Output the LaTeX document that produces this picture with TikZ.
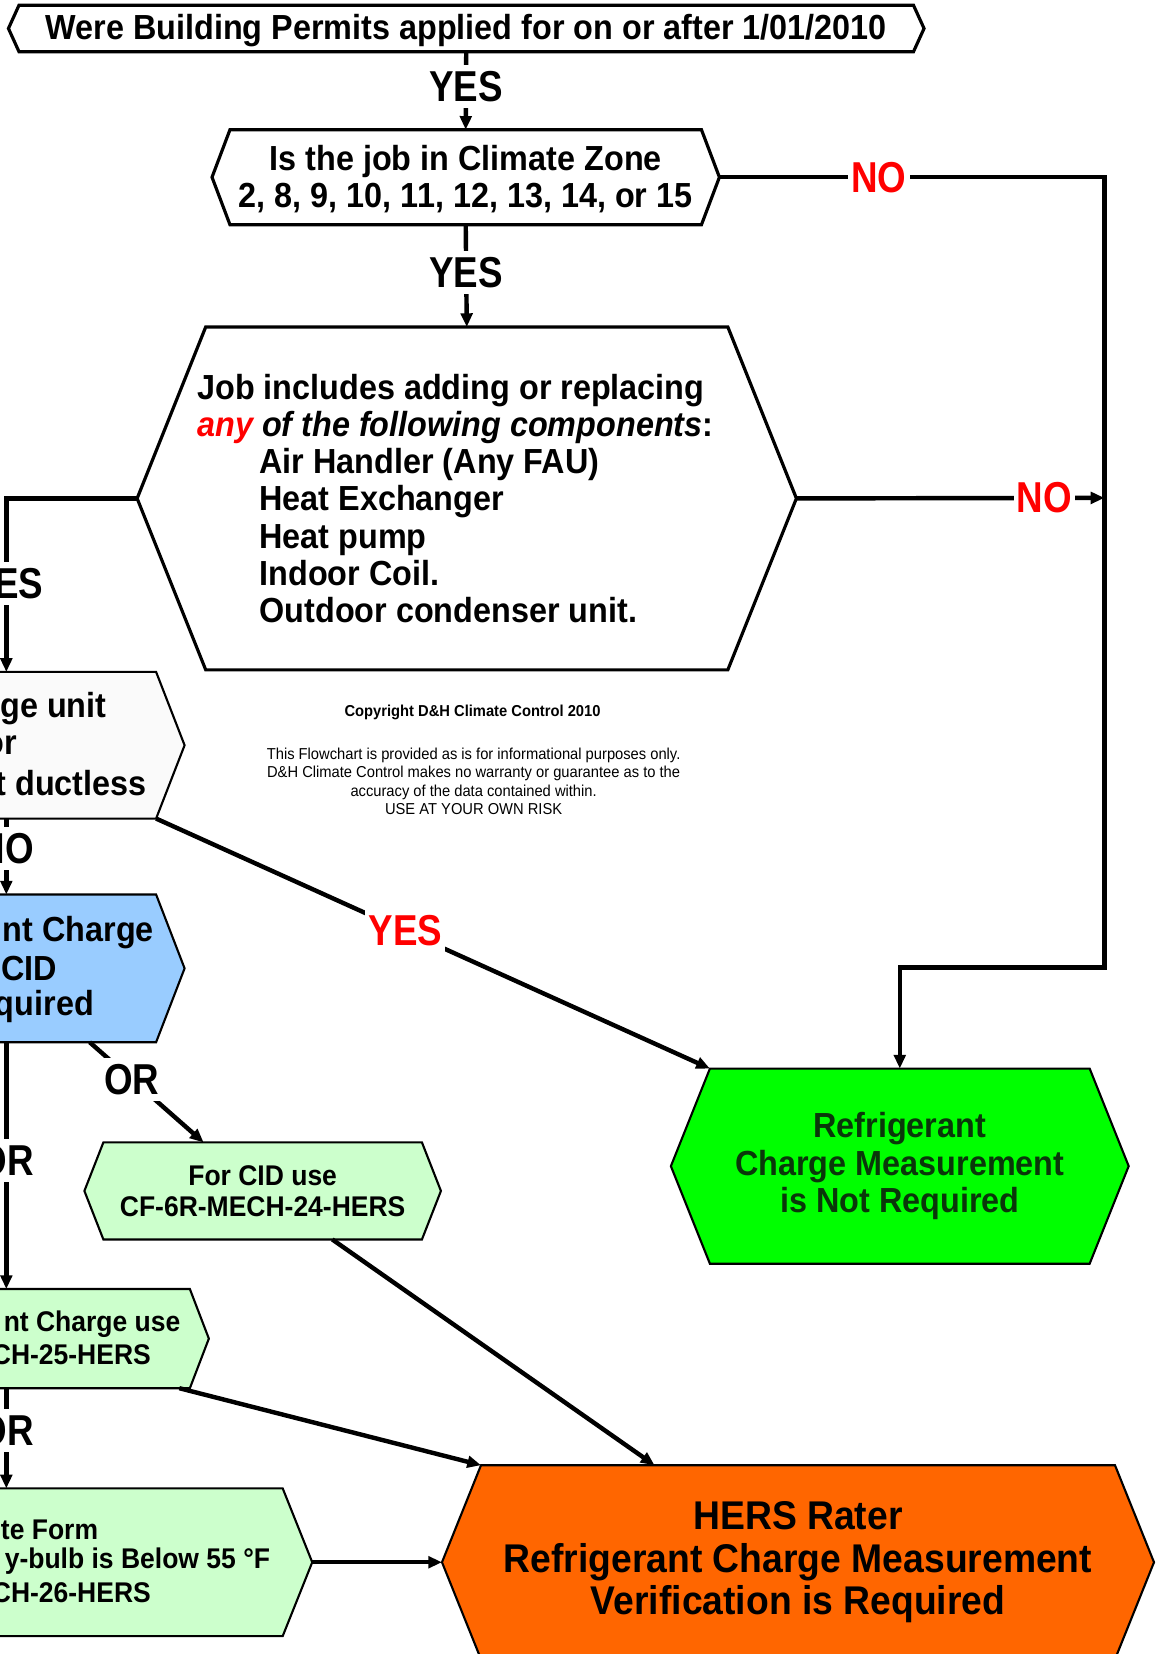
\documentclass[tikz,border=0pt]{standalone}
\usepackage{fontspec}
\setmainfont{Liberation Sans}[FakeStretch=0.93]
\newfontfamily\lblfont{Liberation Sans}[FakeStretch=0.85]
\usetikzlibrary{arrows.meta,backgrounds,calc}
\definecolor{cidblue}{RGB}{153,204,255}
\definecolor{lgreen}{RGB}{204,255,204}
\definecolor{bgreen}{RGB}{0,255,0}
\definecolor{dgreen}{RGB}{10,55,10}
\definecolor{orng}{RGB}{255,102,0}
\definecolor{offw}{RGB}{250,250,250}
\newcommand\hexbox[4]{%
  \begin{scope}[on background layer]
    \clip (0,0) rectangle (1100,1568);
    \filldraw[fill=#3,line width=#4,line join=miter]
      (#1.north west) -- (#1.north east) -- ([xshift=#2]#1.east) --
      (#1.south east) -- (#1.south west) -- ([xshift=-#2]#1.west) -- cycle;
  \end{scope}}
\tikzset{
  body/.style={inner sep=0pt, outer sep=0pt, draw=none, align=center,
    font=\bfseries\fontsize{33}{35.3}\selectfont},
  small/.style={body, font=\bfseries\fontsize{27}{29}\selectfont},
  frag/.style={inner sep=0pt, outer sep=0pt, anchor=east},
  conn/.style={line width=4.2pt, -{Triangle[length=13pt,width=11pt]}},
  lbl/.style={fill=white, inner xsep=3pt, inner ysep=6pt, font=\lblfont\bfseries\fontsize{41}{41}\selectfont},
  rlbl/.style={lbl, text=red},
}
\begin{document}
\begin{tikzpicture}[x=1pt,y=-1pt]
\useasboundingbox (0,0) rectangle (1100,1568);
\begin{scope}[on background layer]
  \fill[white] (0,0) rectangle (1100,1568);
\end{scope}
\clip (0,0) rectangle (1100,1568);

% nodes
\node[body, minimum width=848, minimum height=44] (n1) at (442,27) {};
\hexbox{n1}{10}{white}{3pt}
\node[body] (n1t) at (442,29)
  {Were Building Permits applied for on or after 1/01/2010};

\node[body, minimum width=447, minimum height=90] (n2) at (441.5,168) {};
\hexbox{n2}{17}{white}{3pt}
\node[body] (n2t) at (441.5,170)
  {Is the job in Climate Zone\\2, 8, 9, 10, 11, 12, 13, 14, or 15};

\node[body, minimum width=495, minimum height=325] (n3) at (442.5,472.5) {};
\hexbox{n3}{65}{white}{3pt}
\node[body, align=left, anchor=west] (n3t) at (187,472.5)
  {Job includes adding or replacing\\
   {\color{red}\itshape any} {\itshape of the following components}:\\
   \hspace*{59pt}Air Handler (Any FAU)\\
   \hspace*{59pt}Heat Exchanger\\
   \hspace*{59pt}Heat pump\\
   \hspace*{59pt}Indoor Coil.\\
   \hspace*{59pt}Outdoor condenser unit.};

\node[body, minimum width=284, minimum height=139] (n4) at (6,706.5) {};
\hexbox{n4}{27}{offw}{2pt}
\node[body, frag] (n4a) at (101,672) {ge unit};
\node[body, frag] (n4b) at (16,707) {or};
\node[body, frag] (n4c) at (139,742) {t ductless};

\node[body, minimum width=284, minimum height=140] (n5) at (6,918) {};
\hexbox{n5}{27}{cidblue}{2pt}
\node[body, frag] (n5a) at (146,884) {nt Charge};
\node[body, frag] (n5b) at (54,918) {CID};
\node[body, frag] (n5c) at (89,954) {quired};

\node[small, minimum width=302, minimum height=92] (n7) at (249,1129)
  {For CID use\\CF-6R-MECH-24-HERS};
\hexbox{n7}{18}{lgreen}{2pt}

\node[small, minimum width=348, minimum height=94] (n6) at (6,1269) {};
\hexbox{n6}{18}{lgreen}{2pt}
\node[small, frag] (n6a) at (171,1255) {nt Charge use};
\node[small, frag] (n6b) at (143,1284) {CH-25-HERS};

\node[small, minimum width=524, minimum height=140] (n8) at (6,1481) {};
\hexbox{n8}{28}{lgreen}{2pt}
\node[small, frag] (n8a) at (93,1450) {te Form};
\node[small, frag] (n8b) at (256,1480) {y-bulb is Below 55 °F};
\node[small, frag] (n8c) at (143,1510) {CH-26-HERS};

\node[body, text=dgreen, minimum width=360, minimum height=185] (ng) at (853,1105.5)
  {Refrigerant\\Charge Measurement\\is Not Required};
\hexbox{ng}{37}{bgreen}{2pt}

\node[body, font=\bfseries\fontsize{38}{40.5}\selectfont, minimum width=601, minimum height=184] (no) at (756.5,1481)
  {HERS Rater\\Refrigerant Charge Measurement\\Verification is Required};
\hexbox{no}{37}{orng}{2pt}

\node[inner sep=0pt, font=\bfseries\fontsize{15}{17.5}\selectfont] (copy) at (448,675)
  {Copyright D\&H Climate Control 2010};
\node[inner sep=0pt, align=center, font=\fontsize{15}{17.5}\selectfont] (disc) at (449,740.5)
  {This Flowchart is provided as is for informational purposes only.\\
   D\&H Climate Control makes no warranty or guarantee as to the\\
   accuracy of the data contained within.\\
   USE AT YOUR OWN RISK};

% routing coordinates
\coordinate (n2E) at ([xshift=17]n2.east);
\coordinate (n3E) at ([xshift=65]n3.east);
\coordinate (n3W) at ([xshift=-65]n3.west);
\coordinate (n8E) at ([xshift=28]n8.east);
\coordinate (noW) at ([xshift=-37]no.west);
\coordinate (r1) at (1047,168);
\coordinate (r2) at (1047,917);
\coordinate (r3) at (853,917);
\coordinate (r4) at (1047,472);

% connectors
\draw[conn] (n1.south) -- node[lbl, pos=0.45] {YES} (n2.north);
\draw[conn] (n2.south) -- node[lbl, pos=0.47] {YES} (n3.north);
\draw[conn] (n2E) -- node[rlbl, pos=0.414] {NO} (r1) -- (r2) -- (r3) -- (ng.north);
\draw[conn] (n3E) -- node[rlbl, pos=0.805] {NO} (r4);
\draw[conn] (n3W) -| node[lbl, pos=0.745] {YES} (n4.north);
\draw[conn] (n4.south) -- node[lbl, pos=0.39] {NO} (n5.north);
\draw[conn] (n5.south) -- node[lbl, pos=0.48] {OR} (n6.north);
\draw[conn] (n6.south) -- node[lbl, pos=0.42] {OR} (n8.north);
\draw[conn] ([xshift=79]n5.south) -- node[lbl, pos=0.37] {OR} ([xshift=-56]n7.north);
\draw[conn] (n4.south east) -- node[rlbl, pos=0.45] {YES} (ng.north west);
\draw[conn] ([xshift=66]n7.south) -- ([xshift=-136]no.north);
\draw[conn] ([xshift=-10]n6.south east) -- (no.north west);
\draw[conn] (n8E) -- (noW);
\end{tikzpicture}
\end{document}
